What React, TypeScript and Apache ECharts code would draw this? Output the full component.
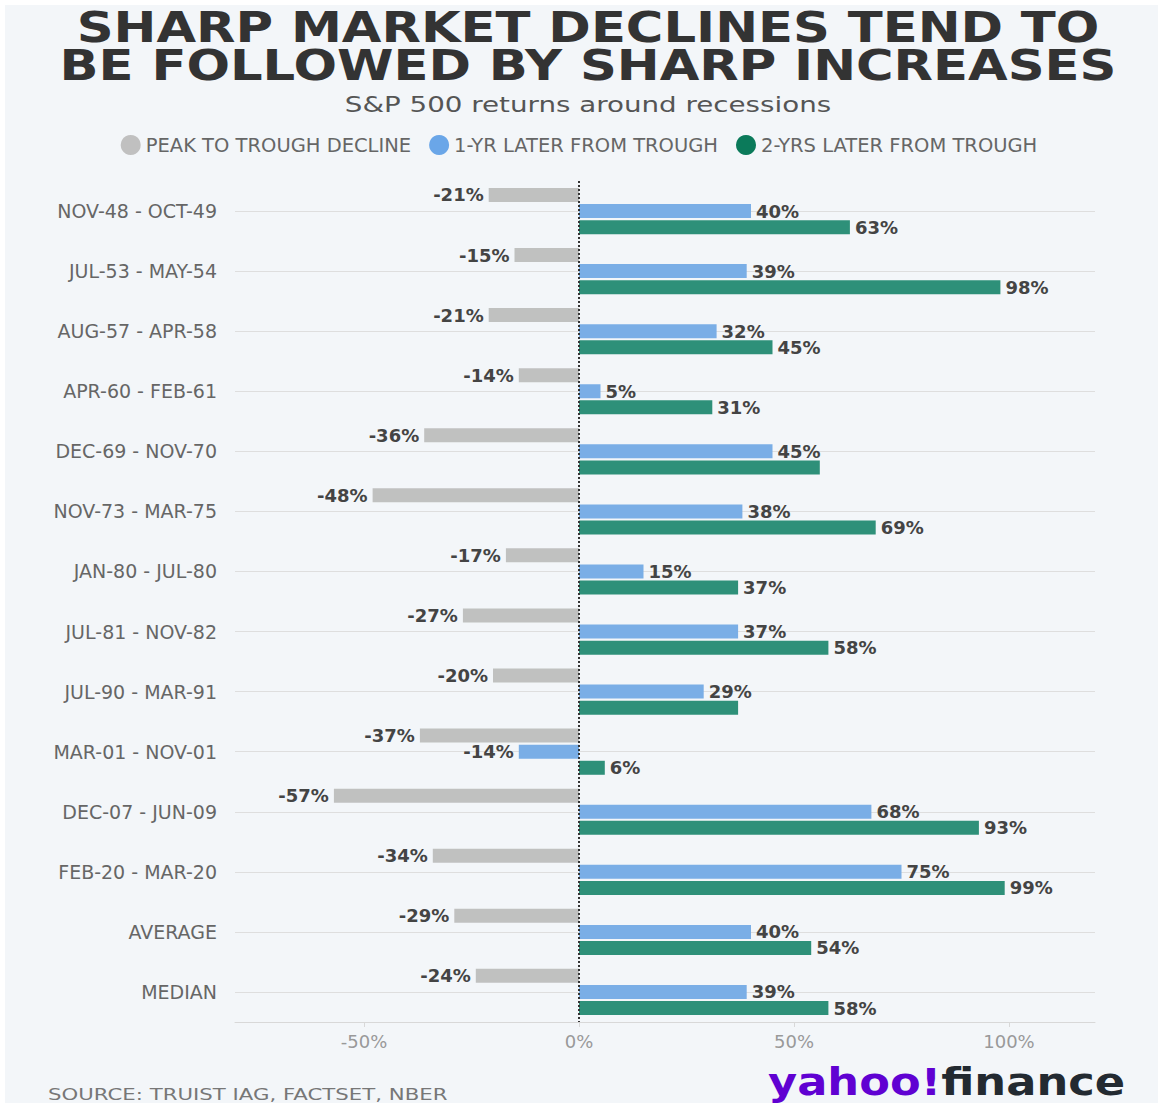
import React, { useEffect, useRef } from "react";
import * as echarts from "echarts";

const categories = [
  "NOV-48 - OCT-49",
  "JUL-53 - MAY-54",
  "AUG-57 - APR-58",
  "APR-60 - FEB-61",
  "DEC-69 - NOV-70",
  "NOV-73 - MAR-75",
  "JAN-80 - JUL-80",
  "JUL-81 - NOV-82",
  "JUL-90 - MAR-91",
  "MAR-01 - NOV-01",
  "DEC-07 - JUN-09",
  "FEB-20 - MAR-20",
  "AVERAGE",
  "MEDIAN",
];
const peakToTrough = [-21, -15, -21, -14, -36, -48, -17, -27, -20, -37, -57, -34, -29, -24];
const oneYearLater = [40, 39, 32, 5, 45, 38, 15, 37, 29, -14, 68, 75, 40, 39];
const twoYearsLater = [63, 98, 45, 31, 56, 69, 37, 58, 37, 6, 93, 99, 54, 58];
const twoYearsUnlabeled = [4, 8];
const xTickLabels = [-50, 0, 50, 100];

const seriesNames = ["PEAK TO TROUGH DECLINE", "1-YR LATER FROM TROUGH", "2-YRS LATER FROM TROUGH"];
const seriesColors = ["#c0c1c0", "#7aaee6", "#2e9079"];
const legendColors = ["#c0c0c0", "#6aa6e8", "#0b7a5a"];

const FONT = "DejaVu Sans";

function makeData(values: number[], hidden: number[] = []) {
  return values.map((v, i) => ({
    value: v,
    label: { show: !hidden.includes(i), position: v < 0 ? "left" : "right" },
  }));
}

export default function App() {
  const ref = useRef<HTMLDivElement>(null);
  useEffect(() => {
    if (!ref.current) return;
    const chart = echarts.init(ref.current, null, { renderer: "svg" });
    const barLabel = {
      show: true,
      formatter: "{c}%",
      fontSize: 18,
      fontWeight: "bold",
      color: "#444",
      fontFamily: FONT,
      distance: 5,
    };
    const bar = (idx: number, data: any[]) => ({
      name: seriesNames[idx],
      type: "bar",
      data,
      barWidth: 14,
      barGap: "15%",
      itemStyle: { color: seriesColors[idx] },
      label: barLabel,
      z: 3,
    });
    chart.setOption({
      animation: false,
      backgroundColor: "transparent",
      grid: { left: 235, right: 63, top: 181, bottom: 81 },
      legend: {
        top: 130,
        left: "center",
        icon: "circle",
        itemWidth: 20,
        itemHeight: 20,
        itemGap: 18,
        textStyle: { fontSize: 19.5, color: "#666", fontFamily: FONT },
        data: seriesNames.map((n, i) => ({ name: n, itemStyle: { color: legendColors[i] } })),
      },
      xAxis: {
        type: "value",
        min: -80,
        max: 120,
        interval: 10,
        splitLine: { show: false },
        axisLine: { show: true, lineStyle: { color: "#d8d8d8" } },
        axisTick: {
          show: true,
          length: 5,
          lineStyle: { color: "#d8d8d8" },
          customValues: xTickLabels,
        },
        axisLabel: {
          fontSize: 18,
          color: "#999",
          fontFamily: FONT,
          margin: 10,
          customValues: xTickLabels,
          formatter: (v: number) => v + "%",
        },
      },
      yAxis: {
        type: "category",
        data: categories,
        inverse: true,
        axisLine: { show: false },
        axisTick: { show: false },
        splitLine: { show: false },
        axisLabel: { fontSize: 19, color: "#666", fontFamily: FONT, margin: 18 },
      },
      series: [
        {
          type: "line",
          data: [],
          z: 0,
          silent: true,
          markLine: {
            z: 1,
            silent: true,
            symbol: "none",
            label: { show: false },
            lineStyle: { color: "#dedede", width: 1, type: "solid" },
            data: categories.map((_c, i) => ({ yAxis: i })),
          },
        },
        bar(0, makeData(peakToTrough)),
        bar(1, makeData(oneYearLater)),
        bar(2, makeData(twoYearsLater, twoYearsUnlabeled)),
        {
          type: "line",
          data: [],
          z: 10,
          silent: true,
          markLine: {
            z: 10,
            silent: true,
            symbol: "none",
            label: { show: false },
            lineStyle: { color: "#333", width: 2, type: [2, 2] },
            data: [{ xAxis: 0 }],
          },
        },
      ],
      graphic: [
        {
          type: "text",
          x: 588,
          y: 28,
          scaleX: 1.22,
          style: {
            text: "SHARP MARKET DECLINES TEND TO",
            font: `bold 42px "${FONT}"`,
            fill: "#333",
            textAlign: "center",
            textVerticalAlign: "middle",
          },
        },
        {
          type: "text",
          x: 588,
          y: 66,
          scaleX: 1.22,
          style: {
            text: "BE FOLLOWED BY SHARP INCREASES",
            font: `bold 42px "${FONT}"`,
            fill: "#333",
            textAlign: "center",
            textVerticalAlign: "middle",
          },
        },
        {
          type: "text",
          x: 588,
          y: 105,
          scaleX: 1.26,
          style: {
            text: "S&P 500 returns around recessions",
            font: `22px "${FONT}"`,
            fill: "#555",
            textAlign: "center",
            textVerticalAlign: "middle",
          },
        },
        {
          type: "text",
          x: 48,
          y: 1094,
          scaleX: 1.33,
          style: {
            text: "SOURCE: TRUIST IAG, FACTSET, NBER",
            font: `16px "${FONT}"`,
            fill: "#777",
            textAlign: "left",
            textVerticalAlign: "middle",
          },
        },
        {
          type: "text",
          x: 768,
          y: 1082,
          scaleX: 1.21,
          style: {
            text: "{a|yahoo!}{b|finance}",
            textAlign: "left",
            textVerticalAlign: "middle",
            rich: {
              a: { font: `900 37px "${FONT}"`, fill: "#6001d2" },
              b: { font: `900 37px "${FONT}"`, fill: "#232a31" },
            },
          },
        },
      ],
    });
    return () => chart.dispose();
  }, []);
  return (
    <div style={{ position: "absolute", left: 0, top: 0, width: 1158, height: 1103, background: "#fff", overflow: "hidden" }}>
      <div style={{ position: "absolute", left: 5, top: 5, right: 0, bottom: 0, background: "#f3f6f9" }} />
      <div ref={ref} style={{ position: "absolute", left: 0, top: 0, width: 1158, height: 1103 }} />
    </div>
  );
}
